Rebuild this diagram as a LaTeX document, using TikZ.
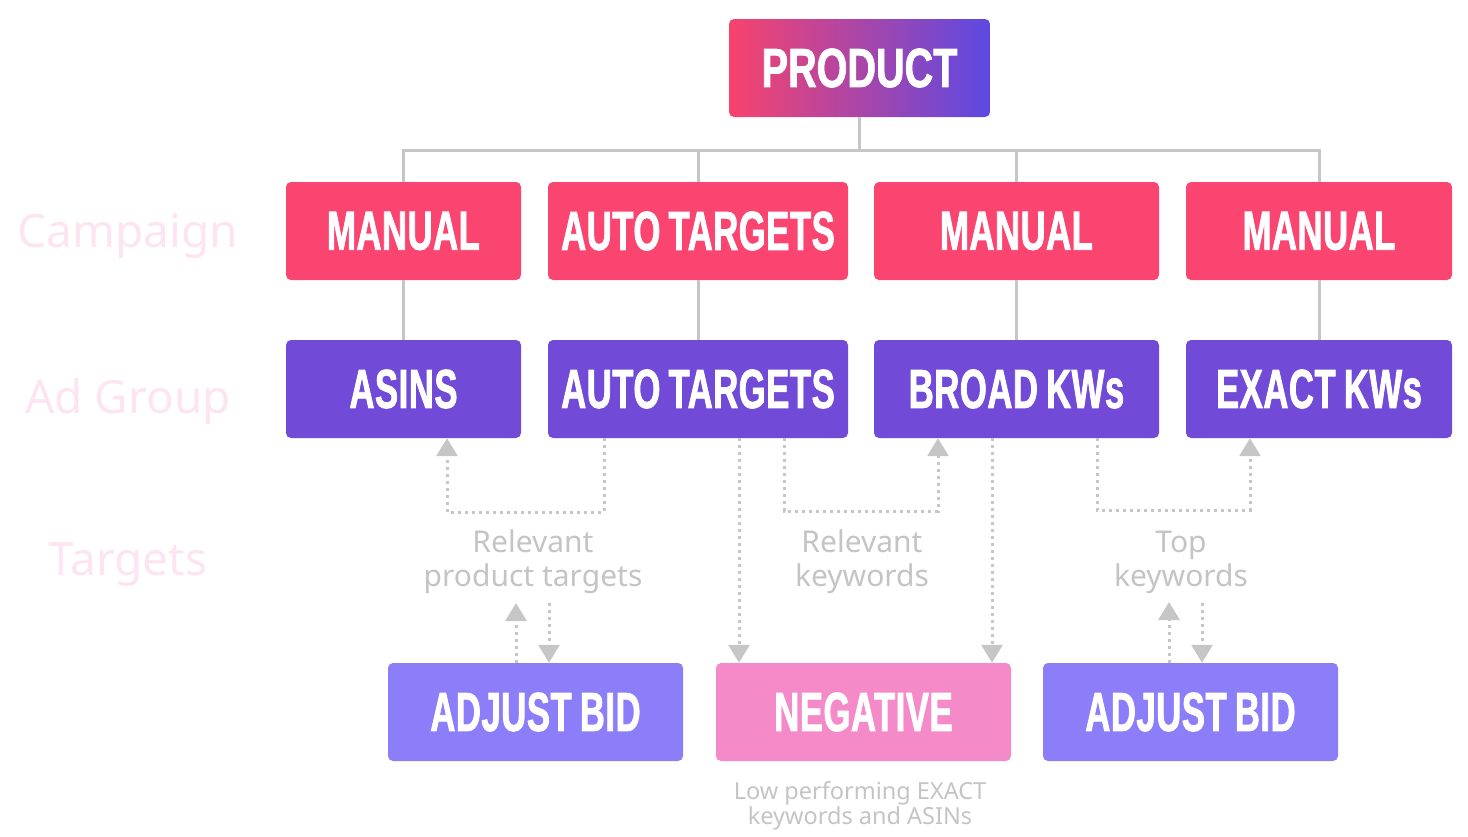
\documentclass[tikz,border=0pt]{standalone}
\usepackage{fontspec}
\setmainfont{Noto Sans}
\newfontfamily\headfont{Liberation Sans}[FakeStretch=0.63, WordSpace=0.8, LetterSpace=1, FakeBold=1.4]
\newfontfamily\prodfont{Liberation Sans}[FakeStretch=0.72, FakeBold=1.4]
\usetikzlibrary{arrows.meta}
\definecolor{campcol}{HTML}{FA4570}
\definecolor{agcol}{HTML}{714BD8}
\definecolor{bidcol}{HTML}{8B7EF8}
\definecolor{negcol}{HTML}{F48BC8}
\definecolor{gradL}{HTML}{F7436D}
\definecolor{gradR}{HTML}{5C49E2}
\definecolor{linecol}{HTML}{C6C6C6}
\definecolor{txtgray}{HTML}{C4C4C4}
\definecolor{sidepink}{HTML}{FDE4F1}
\tikzset{
  box/.style={rounded corners=5pt, minimum height=98pt, inner sep=0pt, text=white,
    font=\headfont\bfseries\fontsize{55}{55}\selectfont},
  tree/.style={draw=linecol, line width=3pt},
  dotarr/.style={draw=linecol, line width=3pt, dash pattern=on 3pt off 4pt,
    -{Triangle[width=21pt,length=18pt]}, color=linecol},
  glabel/.style={align=center, text=txtgray, font=\fontsize{30}{34}\selectfont},
  slabel/.style={anchor=base, text=sidepink, font=\fontsize{46}{46}\selectfont}
}
\begin{document}
\begin{tikzpicture}[x=1pt,y=-1pt]
\useasboundingbox (0,0) rectangle (1468,836);
% product
\node[box, minimum width=261pt, left color=gradL, right color=gradR, shading=axis,
  font=\prodfont\bfseries\fontsize{55}{55}\selectfont] (prod) at (859.5,68) {PRODUCT};
% campaigns
\node[box, fill=campcol, minimum width=235pt] (c1) at (403.5,231) {MANUAL};
\node[box, fill=campcol, minimum width=300pt] (c2) at (698,231) {AUTO TARGETS};
\node[box, fill=campcol, minimum width=285pt] (c3) at (1016.5,231) {MANUAL};
\node[box, fill=campcol, minimum width=266pt] (c4) at (1319,231) {MANUAL};
% ad groups
\node[box, fill=agcol, minimum width=235pt] (g1) at (403.5,389) {ASINS};
\node[box, fill=agcol, minimum width=300pt] (g2) at (698,389) {AUTO TARGETS};
\node[box, fill=agcol, minimum width=285pt] (g3) at (1016.5,389) {BROAD KWs};
\node[box, fill=agcol, minimum width=266pt] (g4) at (1319,389) {EXACT KWs};
% targets
\node[box, fill=bidcol, minimum width=295pt] (t1) at (535.5,712) {ADJUST BID};
\node[box, fill=negcol, minimum width=295pt] (t2) at (863.5,712) {NEGATIVE};
\node[box, fill=bidcol, minimum width=295pt] (t3) at (1190.5,712) {ADJUST BID};
% side labels
\node[slabel] (lc) at (128,247) {Campaign};
\node[slabel] (la) at (128,413) {Ad Group};
\node[slabel] (lt) at (128,575) {Targets};
% gray labels
\node[glabel] (l1) at (533,562) {Relevant\\product targets};
\node[glabel] (l2) at (862,562) {Relevant\\keywords};
\node[glabel] (l3) at (1181,562) {Top\\keywords};
\node[align=center, text=txtgray, font=\fontsize{23.5}{22}\selectfont] (l4) at (860,806) {Low performing EXACT\\keywords and ASINs};
% tree
\coordinate (bus) at (0,150);
\draw[tree] (prod.south) -- (prod.south |- bus);
\draw[tree] (c1.north) -- (c1.north |- bus) -- (c4.north |- bus) -- (c4.north);
\draw[tree] (c2.north) -- (c2.north |- bus);
\draw[tree] (c3.north) -- (c3.north |- bus);
\draw[tree] (c1.south) -- (g1.north);
\draw[tree] (c2.south) -- (g2.north);
\draw[tree] (c3.south) -- (g3.north);
\draw[tree] (c4.south) -- (g4.north);
% dotted connectors
\coordinate (a1) at (604,512);
\coordinate (a2) at (447,512);
\draw[dotarr] (g2.south -| a1) -- (a1) -- (a2) -- (g1.south -| a2);
\coordinate (b1) at (784,511);
\coordinate (b2) at (938,511);
\draw[dotarr] (g2.south -| b1) -- (b1) -- (b2) -- (g3.south -| b2);
\coordinate (d1) at (1097,510);
\coordinate (d2) at (1250,510);
\draw[dotarr] (g3.south -| d1) -- (d1) -- (d2) -- (g4.south -| d2);
\coordinate (n1) at (739,600);
\coordinate (n2) at (992,600);
\draw[dotarr] (g2.south -| n1) -- (t2.north -| n1);
\draw[dotarr] (g3.south -| n2) -- (t2.north -| n2);
% small arrows
\coordinate (u1) at (516,603);
\coordinate (v1) at (549,603);
\draw[dotarr] (t1.north -| u1) -- (u1);
\draw[dotarr] (v1) -- (t1.north -| v1);
\coordinate (u2) at (1169,602);
\coordinate (v2) at (1202,603);
\draw[dotarr] (t3.north -| u2) -- (u2);
\draw[dotarr] (v2) -- (t3.north -| v2);
\end{tikzpicture}
\end{document}
